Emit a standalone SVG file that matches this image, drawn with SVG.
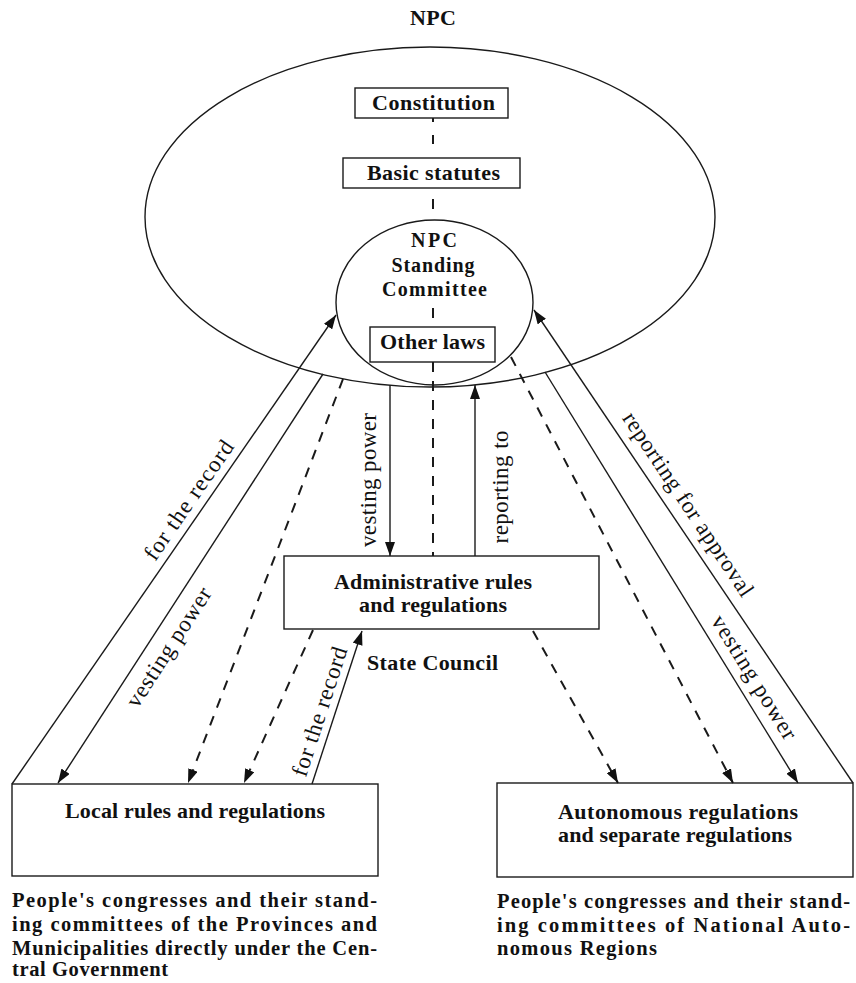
<svg xmlns="http://www.w3.org/2000/svg" width="856" height="983" viewBox="0 0 856 983">
<defs>
<style>
.bg{fill:#fff}
.shape{fill:none;stroke:#1a1a1a;stroke-width:1.4}
.box{fill:#fff;stroke:#1a1a1a;stroke-width:1.4}
.ln{fill:none;stroke:#1a1a1a;stroke-width:1.4}
.dash{fill:none;stroke:#1a1a1a;stroke-width:2;stroke-dasharray:10 9}
.vd{fill:none;stroke:#1a1a1a;stroke-width:2}
.b{font-family:"Liberation Serif","Times New Roman",serif;font-weight:bold;font-size:22px;fill:#111}
.bs{font-family:"Liberation Serif","Times New Roman",serif;font-weight:bold;font-size:20px;fill:#111}
.r{font-family:"Liberation Serif","Times New Roman",serif;font-size:23px;fill:#111}
.cap{font-family:"Liberation Serif","Times New Roman",serif;font-weight:bold;font-size:20.5px;fill:#111}
.m{text-anchor:middle}
</style>
<marker id="ah" viewBox="0 0 14 10" refX="14" refY="5" markerWidth="14" markerHeight="10" markerUnits="userSpaceOnUse" orient="auto">
<path d="M0,0 L14,5 L0,10 Z" fill="#111"/>
</marker>
</defs>
<rect class="bg" x="0" y="0" width="856" height="983"/>

<g id="npc">
<text class="b m" x="433" y="25" textLength="46">NPC</text>
<ellipse class="shape" cx="430" cy="217" rx="285" ry="170"/>
</g>

<g id="constitution">
<rect class="box" x="355" y="88" width="153" height="30"/>
<text class="b m" x="433.5" y="110" textLength="123">Constitution</text>
</g>

<g id="basic-statutes">
<rect class="box" x="343" y="158" width="177" height="30"/>
<text class="b m" x="433.5" y="180" textLength="133">Basic statutes</text>
</g>

<g id="standing-committee">
<ellipse class="shape" cx="434.5" cy="302.5" rx="98.5" ry="82.5"/>
<text class="bs m" x="434" y="247" textLength="46">NPC</text>
<text class="bs m" x="433" y="272" textLength="83">Standing</text>
<text class="bs m" x="434.5" y="296" textLength="105">Committee</text>
</g>

<g id="other-laws">
<rect class="box" x="370" y="327" width="125" height="35"/>
<text class="b m" x="432.5" y="349" textLength="105">Other laws</text>
</g>

<g id="administrative">
<rect class="box" x="284" y="556" width="315" height="73"/>
<text class="b m" x="433" y="589" textLength="198">Administrative rules</text>
<text class="b m" x="433" y="612" textLength="148">and regulations</text>
<text class="b" x="367" y="670" textLength="131">State Council</text>
</g>

<g id="local">
<rect class="box" x="12" y="784" width="366" height="92"/>
<text class="b m" x="195" y="818" textLength="260">Local rules and regulations</text>
<text class="cap" x="12" y="907" textLength="365">People's congresses and their stand-</text>
<text class="cap" x="12" y="931" textLength="365">ing committees of the Provinces and</text>
<text class="cap" x="12" y="955" textLength="365">Municipalities directly under the Cen-</text>
<text class="cap" x="12" y="976" textLength="156">tral Government</text>
</g>

<g id="autonomous">
<rect class="box" x="497" y="783" width="356" height="94"/>
<text class="b" x="558" y="819" textLength="240">Autonomous regulations</text>
<text class="b" x="558" y="842" textLength="234">and separate regulations</text>
<text class="cap" x="497" y="908" textLength="353">People's congresses and their stand-</text>
<text class="cap" x="497" y="932" textLength="353">ing committees of National Auto-</text>
<text class="cap" x="497" y="955" textLength="160">nomous Regions</text>
</g>

<g id="connectors">
<path class="vd" d="M433 118 V158" stroke-dasharray="4 13 9 14 2"/>
<path class="vd" d="M433 188 V220" stroke-dasharray="0 11 10 11"/>
<path class="vd" d="M433 299 V327" stroke-dasharray="0 9 10 20"/>
<path class="dash" d="M433 362 V556"/>
<path class="ln" d="M12 784 L336 315" marker-end="url(#ah)"/>
<path class="ln" d="M323 374 L58 783" marker-end="url(#ah)"/>
<path class="dash" d="M343 379 L188 783" marker-end="url(#ah)"/>
<path class="dash" d="M313 630 L244 783" marker-end="url(#ah)"/>
<path class="ln" d="M312 784 L362 631" marker-end="url(#ah)"/>
<path class="ln" d="M390 385 V556" marker-end="url(#ah)"/>
<path class="ln" d="M475 556 V385" marker-end="url(#ah)"/>
<path class="dash" d="M533 631 L618 783" marker-end="url(#ah)"/>
<path class="dash" d="M511 357 L733 783" marker-end="url(#ah)"/>
<path class="ln" d="M545 372 L798 783" marker-end="url(#ah)"/>
<path class="ln" d="M853 783 L534 310" marker-end="url(#ah)"/>
<text class="r m" transform="translate(190 501) rotate(-55.4)" x="0" y="6" textLength="140">for the record</text>
<text class="r m" transform="translate(170 648) rotate(-57.1)" x="0" y="6" textLength="138">vesting power</text>
<text class="r m" transform="translate(321 712) rotate(-71.9)" x="0" y="6" textLength="135">for the record</text>
<text class="r m" transform="translate(370 480) rotate(-90)" x="0" y="6" textLength="134">vesting power</text>
<text class="r m" transform="translate(502 487) rotate(-90)" x="0" y="6" textLength="113">reporting to</text>
<text class="r m" transform="translate(687 505) rotate(56.2)" x="0" y="6" textLength="217">reporting for approval</text>
<text class="r m" transform="translate(753 678) rotate(58.3)" x="0" y="6" textLength="142">vesting power</text>
</g>
</svg>
